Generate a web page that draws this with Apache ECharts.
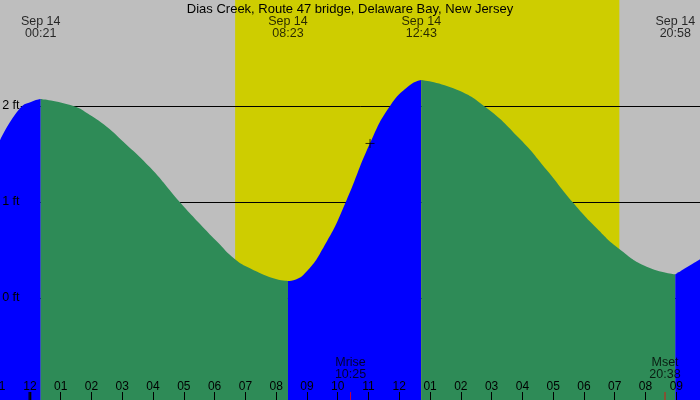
<!DOCTYPE html>
<html>
<head>
<meta charset="utf-8">
<script src="https://cdn.jsdelivr.net/npm/echarts@6/dist/echarts.min.js"></script>
<style>
html,body{margin:0;padding:0;background:#bebebe;}
#c{width:700px;height:400px;}
</style>
</head>
<body>
<div id="c"></div>
<script>
// ---- data ----
const chartTitle = 'Dias Creek, Route 47 bridge, Delaware Bay, New Jersey';
const dateLabel = 'Sep 14';
const extremeTimes = ['00:21', '08:23', '12:43', '20:58'];
const sunTimes = ['06:40', '19:09'];
const moonNames = ['Mrise', 'Mset'];
const moonTimes = ['10:25', '20:38'];
const markerPoint = [11.05, 1.61];
const hourTicks = [-1,0,1,2,3,4,5,6,7,8,9,10,11,12,13,14,15,16,17,18,19,20,21,22];
const hourLabels = ['11','12','01','02','03','04','05','06','07','08','09','10','11','12','01','02','03','04','05','06','07','08','09','10'];
const heightTicks = [0, 1, 2];
// tide curve samples (hours since midnight Sep 14, feet)
const tideT  = [-1.0, -0.322, 0.110, 0.350, 1.409, 1.952, 2.494, 3.034, 3.901, 4.876, 5.526, 6.068, 6.663, 7.150, 7.907, 8.383, 8.882, 9.642, 10.259, 11.049, 11.699, 12.349, 12.717, 13.755, 14.785, 15.922, 16.790, 17.634, 18.414, 19.148, 20.038, 20.967, 21.800];
const tideFt = [1.625, 1.976, 2.052, 2.073, 2.000, 1.906, 1.784, 1.628, 1.361, 0.997, 0.771, 0.590, 0.403, 0.309, 0.205, 0.177, 0.240, 0.586, 0.997, 1.611, 2.000, 2.219, 2.271, 2.184, 1.993, 1.656, 1.333, 0.997, 0.726, 0.510, 0.326, 0.247, 0.410];
const yMin = -1.0625, yMax = 3.1042;
const xMin = -1, xMax = 22;

// ---- helpers ----
function hm(s) { const p = s.split(':').map(Number); return p[0] + p[1] / 60; }
const ext = extremeTimes.map(hm);
const bounds = [-Infinity].concat(ext).concat([Infinity]);
const pts = tideT.map((t, i) => [t, tideFt[i]]);
const segSeries = [];
for (let s = 0; s < bounds.length - 1; s++) {
  const a = bounds[s] - 0.01, b = bounds[s + 1] + 0.01;
  const d = pts.filter(p => p[0] >= a && p[0] <= b);
  const rising = (s % 2 === 0);
  const col = rising ? '#0000ff' : '#2e8b57';
  segSeries.push({
    type: 'line', data: d, smooth: 0.5, symbol: 'none', z: 2,
    lineStyle: { width: 0, color: col }, areaStyle: { color: col, opacity: 1, origin: 'start' },
    silent: true
  });
}

const chart = echarts.init(document.getElementById('c'), null, { renderer: 'canvas' });
const txt = { fontFamily: 'Liberation Sans', color: '#000' };
chart.setOption({
  animation: false,
  backgroundColor: '#bebebe',
  title: { text: chartTitle, left: 'center', top: -2, textStyle: Object.assign({ fontSize: 13, fontWeight: 'normal' }, txt) },
  grid: { left: -0.86, right: -7.08, top: 0, bottom: 0, containLabel: false, outerBoundsMode: 'none' },
  xAxis: {
    type: 'value', min: xMin, max: xMax, interval: 1, z: 10,
    axisLine: { show: false, onZero: false }, splitLine: { show: false },
    axisTick: { inside: true, length: 8, lineStyle: { color: '#000', width: 1 } },
    axisLabel: Object.assign({ inside: true, margin: 7, fontSize: 12, showMinLabel: true, showMaxLabel: true,
      formatter: v => { const i = hourTicks.indexOf(Math.round(v)); return i >= 0 ? hourLabels[i] : ''; } }, txt)
  },
  yAxis: [
    { type: 'value', min: yMin, max: yMax, show: false },
    { type: 'value', min: yMin, max: yMax, position: 'left', z: 10,
      axisLine: { show: false, onZero: false }, axisTick: { show: false }, splitLine: { show: false },
      axisLabel: Object.assign({ inside: true, margin: 3, fontSize: 12.5, customValues: heightTicks,
        formatter: v => v + ' ft' }, txt) }
  ],
  series: [
    { type: 'line', data: [], z: 0, silent: true,
      markArea: { silent: true, z: 0, itemStyle: { color: '#cecd00' },
        data: [[{ xAxis: hm(sunTimes[0]) }, { xAxis: hm(sunTimes[1]) }]] } },
    { type: 'line', data: [], z: 1, silent: true,
      markLine: { silent: true, z: 1, symbol: ['none', 'none'], label: { show: false },
        lineStyle: { color: '#000', width: 1, type: 'solid' },
        data: heightTicks.map(h => [{ coord: [-0.3, h] }, { coord: [xMax, h] }]) } }
  ].concat(segSeries).concat([
    { type: 'scatter', z: 6, silent: true, data: [markerPoint],
      symbol: 'path://M0,5H10M5,0V10', symbolSize: 9,
      itemStyle: { color: 'none', borderColor: '#000', borderWidth: 1 } },
    { type: 'scatter', z: 6, silent: true, clip: false,
      data: ext.map((t, i) => ({ value: [t, yMax], time: extremeTimes[i] })),
      symbolSize: 1, itemStyle: { color: 'rgba(0,0,0,0)' },
      label: Object.assign({ show: true, position: 'inside', offset: [0, 28], fontSize: 12.5, lineHeight: 12, align: 'center',
        formatter: p => dateLabel + '\n' + p.data.time }, txt) },
    { type: 'scatter', z: 6, silent: true, clip: false,
      data: moonTimes.map((s, i) => ({ value: [hm(s), yMin], name: moonNames[i], time: s })),
      symbolSize: 1, itemStyle: { color: 'rgba(0,0,0,0)' },
      label: Object.assign({ show: true, position: 'inside', offset: [0, -31], fontSize: 12.5, lineHeight: 12, align: 'center',
        formatter: p => p.data.name + '\n' + p.data.time }, txt) },
    { type: 'scatter', z: 11, silent: true, clip: false,
      data: moonTimes.map(s => [hm(s), yMin]),
      symbol: 'rect', symbolSize: [1, 8], symbolOffset: [0, -4], itemStyle: { color: '#ff0000' } },
    { type: 'scatter', z: 11, silent: true, clip: false,
      data: [[0, yMin]],
      symbol: 'rect', symbolSize: [3, 8], symbolOffset: [0, -4], itemStyle: { color: '#000' } }
  ])
});
</script>
</body>
</html>
